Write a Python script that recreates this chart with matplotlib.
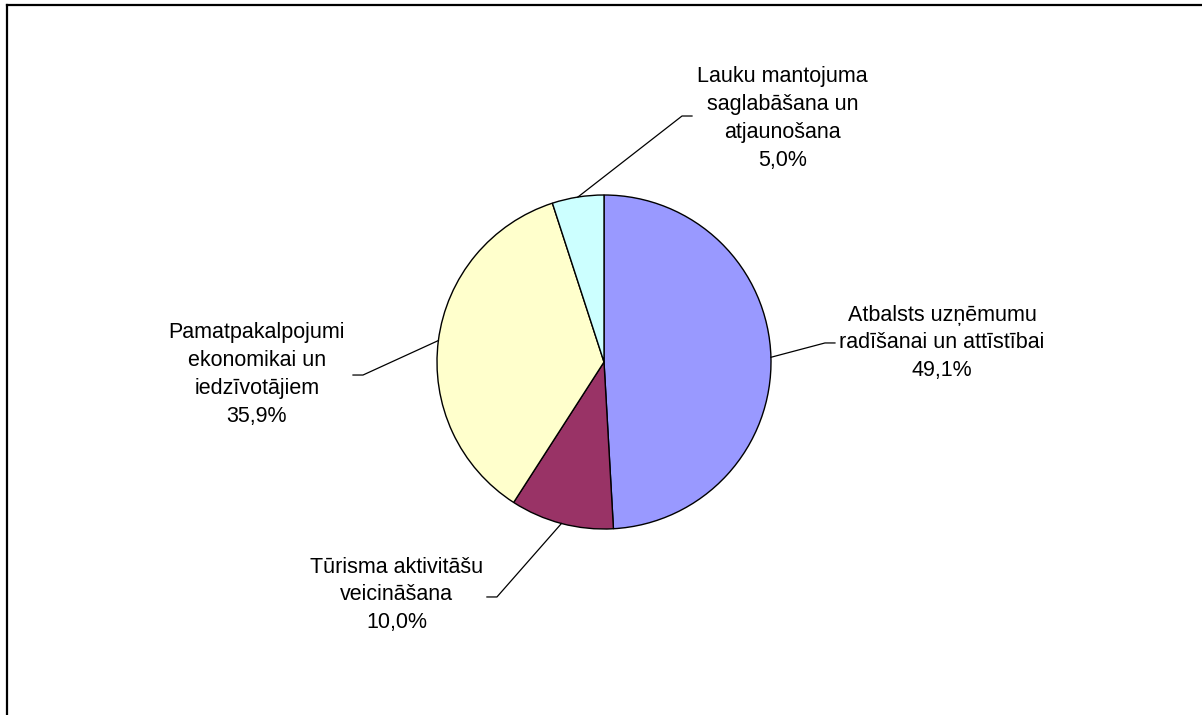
import numpy as np
import matplotlib
matplotlib.use('Agg')
import matplotlib.pyplot as plt
from matplotlib.lines import Line2D

plt.rcParams['font.family'] = ['Liberation Sans', 'DejaVu Sans']

labels = ['Atbalsts uzņēmumu\nradīšanai un attīstībai',
          'Tūrisma aktivitāšu\nveicināšana',
          'Pamatpakalpojumi\nekonomikai un\niedzīvotājiem',
          'Lauku mantojuma\nsaglabāšana un\natjaunošana']
shares = [49.1, 10.0, 35.9, 5.0]
colors = ['#9999FF', '#993366', '#FFFFCC', '#CCFFFF']

# label placement (data units, pie radius = 1): text centre, leader end
text_pos = [(2.024, 0.114), (-1.243, -1.395), (-2.078, -0.075), (1.069, 1.458)]
leader_end = [(1.383, 0.114), (-0.701, -1.407), (-1.503, -0.078), (0.527, 1.473)]

fig = plt.figure(figsize=(12.02, 7.15), dpi=100)
# pie centre (604, 362) px, radius 167 px
W, H = 1202, 715
cx, cy, r = 604, 362, 167
ax = fig.add_axes([(cx - r) / W, (H - cy - r) / H, 2 * r / W, 2 * r / H])
wedges, _ = ax.pie(shares, colors=colors, startangle=90, counterclock=False,
                   radius=1, wedgeprops=dict(edgecolor='black', linewidth=1))
ax.set_xlim(-1, 1)
ax.set_ylim(-1, 1)
ax.set_aspect('equal')
ax.axis('off')

for w, lab, val, tp, le in zip(wedges, labels, shares, text_pos, leader_end):
    ang = np.deg2rad((w.theta1 + w.theta2) / 2)
    sx, sy = np.cos(ang), np.sin(ang)
    step = 10 / r if le[0] < sx else -10 / r  # short horizontal tail
    ax.plot([sx, le[0] + step, le[0]], [sy, le[1], le[1]], color='black',
            lw=0.9, clip_on=False)
    txt = lab + '\n' + f'{val:.1f}%'.replace('.', ',')
    ax.text(tp[0], tp[1], txt, ha='center', va='center', fontsize=15.5,
            linespacing=1.42, color='black', clip_on=False)

# chart area frame (only top and left edges visible)
fig.add_artist(Line2D([6.5 / W, 6.5 / W], [0, 1 - 5 / H], color='black',
                      lw=1.6, transform=fig.transFigure))
fig.add_artist(Line2D([6.5 / W, 1], [1 - 5 / H, 1 - 5 / H], color='black',
                      lw=1.6, transform=fig.transFigure))

fig.savefig('out.png', dpi=100)
